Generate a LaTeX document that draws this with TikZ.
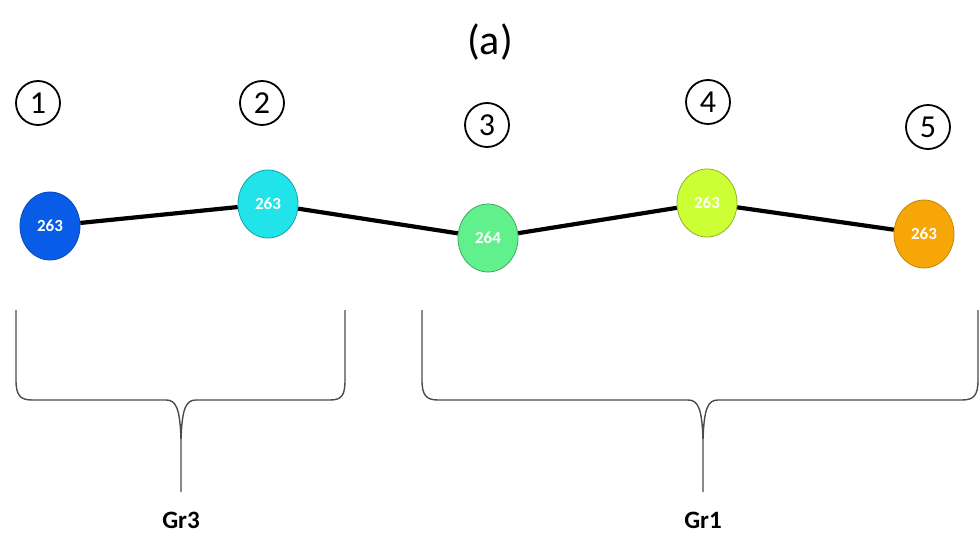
\documentclass[tikz,border=0pt]{standalone}
\usepackage{fontspec}
\setmainfont{Carlito}
\usetikzlibrary{shapes,backgrounds,positioning}
\usepackage{xcolor}

\definecolor{grblue}{RGB}{8,92,232}
\definecolor{grcyan}{RGB}{32,228,234}
\definecolor{grgreen}{RGB}{96,240,140}
\definecolor{gryellow}{RGB}{204,255,52}
\definecolor{grorange}{RGB}{246,166,6}

\begin{document}
\begin{tikzpicture}[x=1pt,y=-1pt,
    site/.style={ellipse,minimum width=60pt,minimum height=68pt,inner sep=0pt,
        line width=0.8pt,font=\fontsize{17}{17}\selectfont\bfseries,text=white},
    num/.style={circle,draw,line width=1.8pt,minimum size=44pt,inner sep=0pt,
        font=\fontsize{32}{32}\selectfont},
    bond/.style={line width=4.2pt},
    brace/.style={draw=black!70,line width=1.4pt},
    grp/.style={font=\fontsize{25}{25}\selectfont\bfseries}]
    \useasboundingbox (0,0) rectangle (980,540);

    \node[font=\fontsize{42}{42}\selectfont] (title) at (490,42) {(a)};

    % chain of sites
    \node[site,fill=grblue,draw=grblue!80!black] (n1) at (50,226) {263};
    \node[site,fill=grcyan,draw=grcyan!70!black] (n2) at (268,204) {263};
    \node[site,fill=grgreen,draw=grgreen!70!black] (n3) at (488,238) {264};
    \node[site,fill=gryellow,draw=gryellow!70!black] (n4) at (707,203) {263};
    \node[site,fill=grorange,draw=grorange!80!black] (n5) at (924,234) {263};

    \begin{scope}[on background layer]
        \draw[bond] (n1) -- (n2) -- (n3) -- (n4) -- (n5);
    \end{scope}

    \node[num] (l1) at (38,103) {1};
    \node[num] (l2) at (262,103) {2};
    \node[num] (l3) at (487,125) {3};
    \node[num] (l4) at (708,102) {4};
    \node[num] (l5) at (928,127) {5};

    % groups
    \def\by{400}
    \draw[brace] (16,310) -- (16,380) .. controls (16,395) and (20,\by) .. (32,\by)
        -- (166,\by) .. controls (176,\by) and (180,408) .. (181,440) -- (181,492)
        (181,440) .. controls (182,408) and (186,\by) .. (196,\by)
        -- (330,\by) .. controls (342,\by) and (345,395) .. (345,380) -- (345,310);
    \draw[brace] (422,310) -- (422,380) .. controls (422,395) and (426,\by) .. (438,\by)
        -- (688,\by) .. controls (698,\by) and (702,408) .. (703,440) -- (703,492)
        (703,440) .. controls (704,408) and (708,\by) .. (718,\by)
        -- (962,\by) .. controls (974,\by) and (978,395) .. (978,380) -- (978,310);

    \node[grp] (g3) at (181,520) {Gr3};
    \node[grp] (g1) at (703,520) {Gr1};
\end{tikzpicture}
\end{document}
